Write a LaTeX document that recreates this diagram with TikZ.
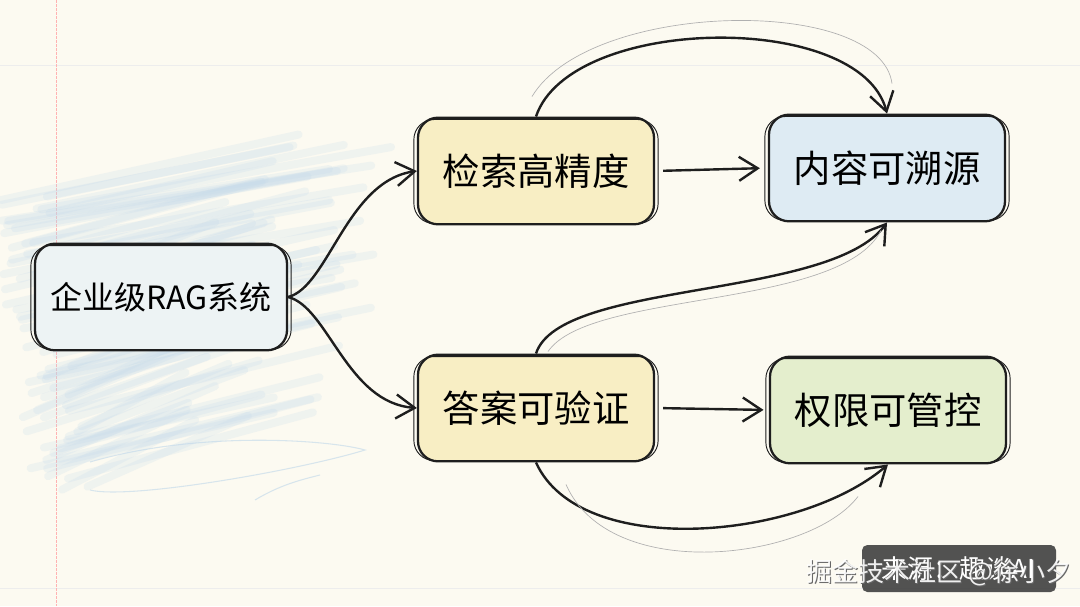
\documentclass[tikz,border=0pt]{standalone}
\usepackage{fontspec}
\newfontfamily\cjk{Noto Sans CJK SC}
\usetikzlibrary{arrows.meta,calc}

\definecolor{paper}{HTML}{FCFAF1}
\definecolor{washblue}{HTML}{BFD7EA}
\definecolor{fillsys}{HTML}{EDF3F4}
\definecolor{fillyel}{HTML}{F8EEC4}
\definecolor{fillblu}{HTML}{DEEBF3}
\definecolor{fillgrn}{HTML}{E4EECD}
\definecolor{ink}{HTML}{1E1E1E}

\tikzset{
  box/.style={draw=ink,line width=1.7pt,rounded corners=15pt,
    minimum width=177pt,minimum height=80pt,inner sep=0pt,
    font=\cjk\fontsize{28}{30}\selectfont},
  redo/.style={draw=ink,line width=0.7pt,rounded corners=15pt},
  arr/.style={draw=ink,line width=1.8pt,
    -{Straight Barb[length=14pt,width=18pt,line width=1.8pt]}},
  ghost/.style={draw=ink!35,line width=0.5pt},
  wmark/.style={font=\cjk\fontsize{19.5}{22}\selectfont}
}

\begin{document}
\begin{tikzpicture}[x=0.75pt,y=0.75pt,yscale=-1,xscale=1]
  % paper
  \fill[paper] (0,0) rectangle (1080,606);
  \useasboundingbox (0,0) rectangle (1080,606);
  \draw[black!7,line width=0.6pt] (0,65) -- (1080,65);
  \draw[black!7,line width=0.6pt] (0,588) -- (1080,588);
  \draw[red!30,line width=0.6pt,dash pattern=on 2pt off 1pt] (56,0) -- (56,606);
  % blue wash on the left, pencil strokes
  \pgfmathsetseed{11}
  \foreach \k in {0,...,70}{
    \pgfmathsetmacro{\ya}{190+\k*4.2+rnd*10}
    \pgfmathsetmacro{\xa}{-10+rnd*60+\k*0.6}
    \pgfmathsetmacro{\xb}{230+rnd*180-\k*0.8}
    \draw[washblue,line width=6pt,opacity=0.2,line cap=round]
      (\xa,\ya) -- (\xb,\ya-50-rnd*25);
  }
  \draw[washblue,line width=0.8pt,opacity=0.6] (90,462) .. controls (200,430) and (330,440) .. (365,450)
    .. controls (300,470) and (130,500) .. (90,490);
  \draw[washblue,line width=0.8pt,opacity=0.6] (255,500) .. controls (280,485) and (300,480) .. (320,475);

  % boxes
  \node[box,fill=fillsys,minimum width=189pt,font=\cjk\fontsize{24}{26}\selectfont] (sys) at (161,297) {企业级RAG系统};
  \node[box,fill=fillyel] (ret) at (536,171) {检索高精度};
  \node[box,fill=fillyel] (ans) at (536,408) {答案可验证};
  \node[box,fill=fillblu] (src) at (887,168) {内容可溯源};
  \node[box,fill=fillgrn] (acc) at (888,410) {权限可管控};
  % second pencil outline
  \foreach \n in {sys,ret,ans,src,acc}
    \draw[redo] ($(\n.north west)+(-3,3)$) rectangle ($(\n.south east)+(3,-2)$);

  % connectors
  \draw[arr] (sys.east) .. controls +(40,-10) and +(-70,10) .. (ret.west);
  \draw[arr] (sys.east) .. controls +(40,10) and +(-70,-5) .. (ans.west);
  \draw[arr,shorten <=6pt,shorten >=6pt] (ret.east) -- (src.west);
  \draw[arr,shorten <=6pt,shorten >=4pt] (ans.east) -- (acc.west);
  \draw[arr] (ret.north) .. controls (570,15) and (860,10) .. (src.north);
  \draw[ghost] ($(ret.north)+(-4,-20)$) .. controls (590,0) and (880,-5) .. ($(src.north)+(5,-30)$);
  \draw[arr] (ans.north) .. controls (560,280) and (830,300) .. (src.south);
  \draw[ghost] ($(ans.north)+(12,-2)$) .. controls (590,290) and (840,310) .. ($(src.south)+(-6,8)$);
  \draw[arr] (ans.south) .. controls (580,560) and (800,540) .. (acc.south);
  \draw[ghost] ($(ans.south)+(30,22)$) .. controls (610,585) and (810,560) .. ($(acc.south)+(-30,32)$);

  % watermark
  \fill[black!75,opacity=0.9,rounded corners=4pt] (862,545) rectangle (1056,592);
  \node[wmark,text=white] (tag) at (958,569) {来源：趣谈AI};
  \node[wmark,anchor=west,text=black!60] at (803,574) {掘金技术社区 @徐小夕};
  \node[wmark,anchor=west,text=white,opacity=0.9] (mark) at (802,573) {掘金技术社区 @徐小夕};
\end{tikzpicture}
\end{document}
